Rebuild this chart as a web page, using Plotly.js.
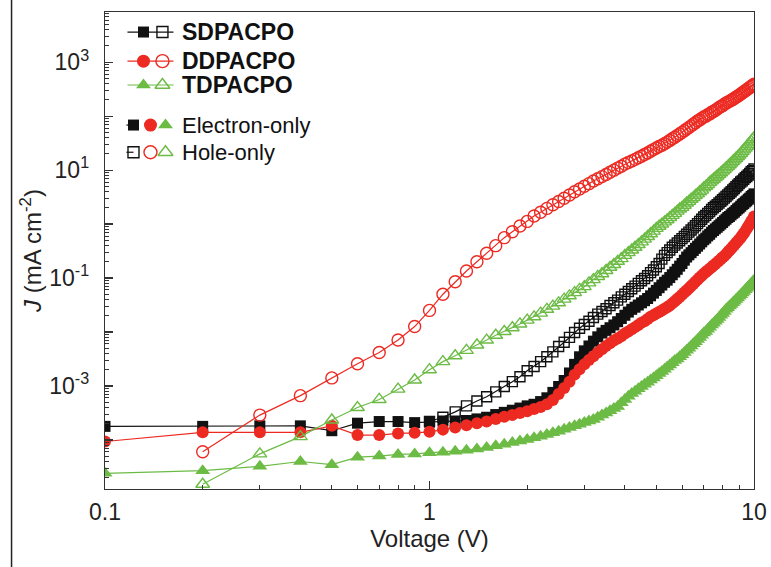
<!DOCTYPE html>
<html>
<head>
<meta charset="utf-8">
<script src="https://cdn.plot.ly/plotly-3.0.1.min.js"></script>
<style>html,body{margin:0;padding:0;background:#fff;}#chart{width:771px;height:567px;}</style>
</head>
<body>
<div id="chart"></div>
<script>
// Voltage (V)
const voltage = [0.1,0.2,0.3,0.4,0.5,0.6,0.7,0.8,0.9,1.0,
1.1,1.2,1.3,1.4,1.5,1.6,1.7,1.8,1.9,2.0,
2.1,2.2,2.3,2.4,2.5,2.6,2.7,2.8,2.9,3.0,
3.1,3.2,3.3,3.4,3.5,3.6,3.7,3.8,3.9,4.0,
4.1,4.2,4.3,4.4,4.5,4.6,4.7,4.8,4.9,5.0,
5.1,5.2,5.3,5.4,5.5,5.6,5.7,5.8,5.9,6.0,
6.1,6.2,6.3,6.4,6.5,6.6,6.7,6.8,6.9,7.0,
7.1,7.2,7.3,7.4,7.5,7.6,7.7,7.8,7.9,8.0,
8.1,8.2,8.3,8.4,8.5,8.6,8.7,8.8,8.9,9.0,
9.1,9.2,9.3,9.4,9.5,9.6,9.7,9.8,9.9,10.0];

// J (mA cm^-2), electron-only devices (0.1 - 10 V)
const sdElectron = [1.78e-4,1.78e-4,1.82e-4,1.82e-4,1.48e-4,2.04e-4,2.19e-4,2.19e-4,2.09e-4,2.14e-4,
2.24e-4,2.24e-4,2.29e-4,2.45e-4,2.63e-4,2.95e-4,3.24e-4,3.55e-4,3.89e-4,4.27e-4,
4.57e-4,5.13e-4,6.03e-4,7.59e-4,9.77e-4,1.26e-3,1.74e-3,2.51e-3,3.47e-3,4.47e-3,
5.50e-3,6.76e-3,8.13e-3,9.55e-3,1.07e-2,1.20e-2,1.35e-2,1.55e-2,1.78e-2,2.04e-2,
2.34e-2,2.63e-2,2.88e-2,3.16e-2,3.47e-2,3.80e-2,4.17e-2,4.68e-2,5.25e-2,5.89e-2,
6.61e-2,7.41e-2,8.32e-2,9.12e-2,0.102,0.115,0.129,0.145,0.166,0.186,
0.214,0.245,0.269,0.295,0.324,0.355,0.389,0.427,0.468,0.513,
0.550,0.603,0.646,0.708,0.759,0.813,0.871,0.933,1.00,1.07,
1.15,1.23,1.32,1.38,1.48,1.58,1.66,1.78,1.91,2.00,
2.14,2.29,2.40,2.57,2.69,2.88,3.02,3.24,3.39,3.63];

const ddElectron = [9.33e-5,1.38e-4,1.38e-4,1.38e-4,1.82e-4,1.23e-4,1.23e-4,1.32e-4,1.35e-4,1.41e-4,
1.55e-4,1.70e-4,1.86e-4,2.04e-4,2.19e-4,2.45e-4,2.69e-4,2.88e-4,3.16e-4,3.39e-4,
3.72e-4,4.07e-4,4.57e-4,5.50e-4,7.08e-4,9.12e-4,1.20e-3,1.62e-3,2.04e-3,2.51e-3,
3.02e-3,3.55e-3,4.17e-3,4.79e-3,5.50e-3,6.17e-3,6.92e-3,7.59e-3,8.32e-3,9.33e-3,
1.02e-2,1.12e-2,1.23e-2,1.35e-2,1.48e-2,1.58e-2,1.74e-2,1.91e-2,2.04e-2,2.19e-2,
2.34e-2,2.51e-2,2.69e-2,2.88e-2,3.09e-2,3.39e-2,3.72e-2,4.07e-2,4.47e-2,4.90e-2,
5.37e-2,5.89e-2,6.46e-2,7.08e-2,7.76e-2,8.51e-2,9.33e-2,0.102,0.110,0.120,
0.129,0.138,0.148,0.158,0.170,0.182,0.195,0.209,0.224,0.240,
0.257,0.275,0.302,0.324,0.350,0.378,0.410,0.445,0.480,0.520,
0.560,0.620,0.670,0.740,0.820,0.910,1.00,1.11,1.23,1.38];

const tdElectron = [2.40e-5,2.69e-5,3.24e-5,3.98e-5,3.47e-5,4.79e-5,5.01e-5,5.37e-5,5.50e-5,5.75e-5,
5.89e-5,6.17e-5,6.46e-5,6.76e-5,7.24e-5,7.76e-5,8.32e-5,8.91e-5,9.55e-5,1.02e-4,
1.10e-4,1.17e-4,1.26e-4,1.35e-4,1.45e-4,1.58e-4,1.70e-4,1.82e-4,1.95e-4,2.09e-4,
2.24e-4,2.40e-4,2.63e-4,2.88e-4,3.16e-4,3.47e-4,3.80e-4,4.17e-4,4.90e-4,5.62e-4,
6.46e-4,7.24e-4,7.94e-4,8.91e-4,9.77e-4,1.07e-3,1.17e-3,1.29e-3,1.41e-3,1.55e-3,
1.70e-3,1.86e-3,2.04e-3,2.24e-3,2.45e-3,2.69e-3,2.95e-3,3.16e-3,3.47e-3,3.80e-3,
4.17e-3,4.57e-3,5.01e-3,5.50e-3,6.03e-3,6.61e-3,7.24e-3,7.94e-3,8.71e-3,9.55e-3,
1.02e-2,1.12e-2,1.23e-2,1.35e-2,1.45e-2,1.58e-2,1.70e-2,1.86e-2,2.04e-2,2.19e-2,
2.40e-2,2.63e-2,2.82e-2,3.02e-2,3.24e-2,3.47e-2,3.72e-2,3.98e-2,4.27e-2,4.57e-2,
4.90e-2,5.25e-2,5.62e-2,6.03e-2,6.46e-2,6.92e-2,7.41e-2,7.94e-2,8.51e-2,9.12e-2];

// J (mA cm^-2), hole-only devices
const sdHoleV = voltage.slice(9);   // from 1.0 V
const sdHole = [2.19e-4,
2.63e-4,3.31e-4,4.27e-4,5.25e-4,6.31e-4,7.76e-4,9.77e-4,1.20e-3,1.48e-3,1.91e-3,
2.29e-3,2.82e-3,3.47e-3,4.27e-3,5.37e-3,6.46e-3,7.94e-3,9.77e-3,1.17e-2,1.38e-2,
1.58e-2,1.86e-2,2.14e-2,2.40e-2,2.69e-2,3.09e-2,3.47e-2,3.89e-2,4.47e-2,5.01e-2,
5.62e-2,6.31e-2,7.08e-2,7.94e-2,8.91e-2,9.77e-2,0.110,0.126,0.141,0.162,
0.186,0.224,0.263,0.295,0.331,0.372,0.407,0.447,0.490,0.537,
0.589,0.646,0.708,0.776,0.851,0.933,1.02,1.12,1.23,1.35,
1.45,1.58,1.70,1.86,2.00,2.14,2.29,2.45,2.63,2.82,
3.02,3.24,3.47,3.72,3.98,4.27,4.57,4.90,5.25,5.62,
6.03,6.31,6.76,7.24,7.59,8.13,8.71,9.33,9.77,10.5];

const ddHoleV = voltage.slice(1);   // from 0.2 V
const ddHole = [6.03e-5,2.88e-4,6.61e-4,1.41e-3,2.57e-3,4.17e-3,7.08e-3,1.26e-2,2.51e-2,
5.01e-2,8.51e-2,0.135,0.200,0.288,0.398,0.560,0.720,0.920,1.12,
1.41,1.66,1.95,2.28,2.62,3.01,3.46,3.98,4.46,5.01,
5.61,6.29,6.91,7.57,8.30,9.11,9.98,10.9,11.8,12.9,
13.8,14.8,15.8,16.9,18.1,19.5,20.8,22.4,24.0,25.6,
27.4,28.8,30.8,33.0,35.4,38.0,40.7,43.6,46.7,50.1,
53.6,57.5,61.6,66.0,70.7,75.7,81.1,85.0,91.1,96.7,
100,106,110,118,122,129,135,144,151,156,
167,173,182,188,197,204,214,224,234,245,
257,269,282,295,309,324,339,355,372,389];

const tdHoleV = voltage.slice(1);   // from 0.2 V
const tdHole = [1.51e-5,5.50e-5,1.15e-4,2.34e-4,3.98e-4,5.62e-4,8.71e-4,1.29e-3,2.00e-3,
2.82e-3,3.63e-3,4.57e-3,5.75e-3,7.08e-3,8.71e-3,1.02e-2,1.20e-2,1.41e-2,1.66e-2,
1.91e-2,2.24e-2,2.63e-2,3.02e-2,3.47e-2,4.07e-2,4.68e-2,5.37e-2,6.17e-2,6.92e-2,
8.13e-2,9.33e-2,0.107,0.120,0.138,0.158,0.178,0.204,0.229,0.263,
0.295,0.331,0.372,0.417,0.468,0.525,0.589,0.661,0.741,0.832,
0.911,1.00,1.10,1.20,1.32,1.45,1.58,1.74,1.90,2.04,
2.23,2.46,2.63,2.88,3.09,3.39,3.63,3.98,4.26,4.68,
5.01,5.37,5.90,6.31,6.77,7.24,7.77,8.32,8.91,9.56,
10.2,11.0,11.7,12.6,13.5,14.5,15.5,16.6,17.8,19.0,
20.4,22.0,23.7,25.5,27.5,29.6,31.9,34.4,37.0,40.0];

// Tick labels
const xTickVals = [0.1, 1, 10];
const xTickText = ['0.1', '1', '10'];
const yTickVals = [1e-3, 1e-1, 10, 1000];
const yTickText = ['10<sup>-3</sup>', '10<sup>-1</sup>', '10<sup>1</sup>', '10<sup>3</sup>'];
const yUnlabeledDecades = [1e-5, 1e-4, 1e-2, 1, 100, 10000];

// Legend labels
const materialNames = ['SDPACPO', 'DDPACPO', 'TDPACPO'];
const typeNames = ['Electron-only', 'Hole-only'];

const BLACK = '#111111', RED = '#ec2a22', GREEN = '#6cbb45';
const FONT = 'Liberation Sans, Arial, sans-serif';

function minorVals(lo, hi) {
  const out = [];
  for (let e = lo; e <= hi; e++) for (let m = 2; m <= 9; m++) out.push(m * Math.pow(10, e));
  return out;
}

function series(x, y, color, symbol, size, filled) {
  return {
    x: x, y: y, type: 'scatter', mode: 'lines+markers',
    line: {color: color, width: 1.2},
    marker: {symbol: symbol, size: size, color: color,
             line: {color: color, width: filled ? 0 : 1.4}},
    showlegend: false, hoverinfo: 'skip'
  };
}

const traces = [
  series(sdHoleV, sdHole, BLACK, 'square-open', 10, false),
  series(voltage, sdElectron, BLACK, 'square', 11, true),
  series(ddHoleV, ddHole, RED, 'circle-open', 12, false),
  series(voltage, ddElectron, RED, 'circle', 12, true),
  series(tdHoleV, tdHole, GREEN, 'triangle-up-open', 12, false),
  series(voltage, tdElectron, GREEN, 'triangle-up', 13, true)
];

// Legend drawn with markers on an invisible overlay axis (0..1 units of the plot area)
const legColors = [BLACK, RED, GREEN];
const legSym = ['square', 'circle', 'triangle-up'];
const legSize = [11, 13, 13];
const legRowsY = [0.958, 0.897, 0.847];
const legLineX = [0.0346, 0.1055];
const legFilledX = 0.0593, legOpenX = 0.0885;
for (let i = 0; i < 3; i++) {
  traces.push({x: legLineX, y: [legRowsY[i], legRowsY[i]], xaxis: 'x2', yaxis: 'y2', mode: 'lines',
    line: {color: legColors[i], width: 1.2}, showlegend: false, hoverinfo: 'skip'});
  traces.push({x: [legFilledX], y: [legRowsY[i]], xaxis: 'x2', yaxis: 'y2', mode: 'markers',
    marker: {symbol: legSym[i], size: legSize[i], color: legColors[i]}, showlegend: false, hoverinfo: 'skip'});
  traces.push({x: [legOpenX], y: [legRowsY[i]], xaxis: 'x2', yaxis: 'y2', mode: 'markers',
    marker: {symbol: legSym[i] + '-open', size: legSize[i], color: legColors[i], line: {width: 1.4, color: legColors[i]}},
    showlegend: false, hoverinfo: 'skip'});
}
const legTypeY = [0.763, 0.706];
const legTypeX = [0.0439, 0.0701, 0.0932];
for (let r = 0; r < 2; r++) {
  traces.push({x: [0.0330, 0.0439], y: [legTypeY[r], legTypeY[r]], xaxis: 'x2', yaxis: 'y2', mode: 'lines',
    line: {color: BLACK, width: 1.2}, showlegend: false, hoverinfo: 'skip'});
  for (let i = 0; i < 3; i++) {
    traces.push({x: [legTypeX[i]], y: [legTypeY[r]], xaxis: 'x2', yaxis: 'y2', mode: 'markers',
      marker: {symbol: r === 0 ? legSym[i] : legSym[i] + '-open', size: legSize[i], color: legColors[i],
               line: {width: r === 0 ? 0 : 1.4, color: legColors[i]}},
      showlegend: false, hoverinfo: 'skip'});
  }
}

const annotations = [];
for (let i = 0; i < 3; i++) {
  annotations.push({xref: 'paper', yref: 'paper', x: 0.1162, y: legRowsY[i], xanchor: 'left', yanchor: 'middle',
    text: materialNames[i], showarrow: false,
    font: {family: FONT, size: 23, color: '#111', weight: 'bold'}});
}
for (let r = 0; r < 2; r++) {
  annotations.push({xref: 'paper', yref: 'paper', x: 0.1162, y: legTypeY[r], xanchor: 'left', yanchor: 'middle',
    text: typeNames[r], showarrow: false,
    font: {family: FONT, size: 22, color: '#111'}});
}

const axisFont = {family: FONT, size: 23, color: '#222'};

const layout = {
  width: 771, height: 567,
  margin: {l: 105, r: 17, t: 12, b: 78},
  paper_bgcolor: '#ffffff', plot_bgcolor: '#ffffff',
  showlegend: false,
  xaxis: {
    type: 'log', range: [-1, 1], showgrid: false, zeroline: false,
    showline: true, linecolor: '#333', linewidth: 1.3, mirror: true,
    tickmode: 'array', tickvals: xTickVals, ticktext: xTickText,
    ticks: 'inside', ticklen: 8, tickwidth: 1.2, tickcolor: '#333',
    minor: {tickvals: minorVals(-1, 0), ticks: 'inside', ticklen: 4, tickwidth: 1, tickcolor: '#333', showgrid: false},
    tickfont: axisFont, ticklabelstandoff: 2,
    title: {text: 'Voltage (V)', font: {family: FONT, size: 24, color: '#222'}, standoff: 4},
    automargin: false
  },
  yaxis: {
    type: 'log', range: [-4.91, 3.93], showgrid: false, zeroline: false,
    showline: true, linecolor: '#333', linewidth: 1.3, mirror: true,
    tickmode: 'array', tickvals: yTickVals, ticktext: yTickText,
    ticks: 'inside', ticklen: 8, tickwidth: 1.2, tickcolor: '#333',
    minor: {tickvals: minorVals(-5, 3), ticks: 'inside', ticklen: 4, tickwidth: 1, tickcolor: '#333', showgrid: false},
    tickfont: axisFont, ticklabelstandoff: 10,
    title: {text: '<i>J</i> (mA cm<sup>-2</sup>)', font: {family: FONT, size: 24, color: '#222'}, standoff: 0},
    automargin: false
  },
  // unlabeled major ticks at the even decades
  yaxis3: {
    type: 'log', range: [-4.91, 3.93], overlaying: 'y', anchor: 'x', side: 'left',
    showgrid: false, zeroline: false, showline: false, showticklabels: false,
    tickmode: 'array', tickvals: yUnlabeledDecades,
    ticks: 'inside', ticklen: 8, tickwidth: 1.2, tickcolor: '#333', fixedrange: true
  },
  xaxis2: {overlaying: 'x', range: [0, 1], visible: false, anchor: 'y2', fixedrange: true},
  yaxis2: {overlaying: 'y', range: [0, 1], visible: false, anchor: 'x2', fixedrange: true},
  annotations: annotations,
  shapes: [
    {type: 'line', xref: 'paper', yref: 'paper', x0: -0.144, x1: -0.144, y0: -0.17, y1: 1.03,
     line: {color: '#222', width: 1.5}}
  ]
};

// a hidden trace so the extra tick axis is drawn
traces.push({x: [1], y: [1], xaxis: 'x', yaxis: 'y3', mode: 'markers', marker: {opacity: 0}, showlegend: false, hoverinfo: 'skip'});

Plotly.newPlot('chart', traces, layout, {staticPlot: true, displayModeBar: false});
</script>
</body>
</html>
